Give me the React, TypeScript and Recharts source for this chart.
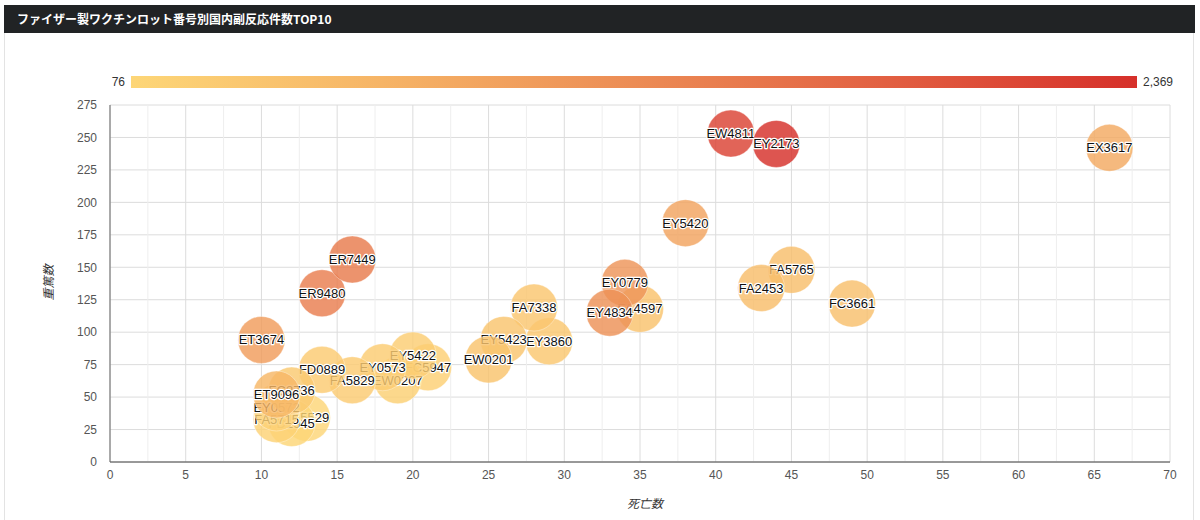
import React from "react";
import {
  ScatterChart,
  Scatter,
  XAxis,
  YAxis,
  CartesianGrid,
  ReferenceLine,
} from "recharts";

// Lots drawn in ascending order of total reports (later ones on top)
const lots = [
  "FA5529", "FD1945", "FA5715", "EY0572", "FC5947", "EW0207", "EY5422", "EY0573",
  "FA5829", "FD0889", "FC8736", "EY3860", "FA7338", "EY5423", "EW0201", "FA4597",
  "FC3661", "FA5765", "FA2453", "ET9096", "EX3617", "EY5420", "ET3674", "EY0779",
  "EY4834", "ER9480", "ER7449", "EW4811", "EY2173",
];
const deaths = [
  13, 12, 11, 11, 21, 19, 20, 18,
  16, 14, 12, 29, 28, 26, 25, 35,
  49, 45, 43, 11, 66, 38, 10, 34,
  33, 14, 16, 41, 44,
];
const serious = [
  34, 30, 33, 42, 73, 63, 82, 73,
  63, 71, 55, 93, 119, 94, 79, 118,
  122, 148, 134, 52, 242, 184, 94, 138,
  115, 130, 156, 253, 245,
];
const reports = [
  76, 100, 140, 160, 180, 200, 220, 240,
  260, 280, 300, 330, 350, 380, 400, 420,
  450, 480, 500, 600, 800, 900, 1000, 1100,
  1150, 1400, 1450, 2150, 2369,
];

const xTicks = [0, 5, 10, 15, 20, 25, 30, 35, 40, 45, 50, 55, 60, 65, 70];
const xMinor = [2.5, 7.5, 12.5, 17.5, 22.5, 27.5, 32.5, 37.5, 42.5, 47.5, 52.5, 57.5, 62.5, 67.5];
const yTicks = [0, 25, 50, 75, 100, 125, 150, 175, 200, 225, 250, 275];

const minReports = 76;
const maxReports = 2369;

const title = "ファイザー製ワクチンロット番号別国内副反応件数TOP10";
const xTitle = "死亡数";
const yTitle = "重篤数";

const colorStops: [number, number[]][] = [
  [0, [253, 214, 119]],
  [0.25, [246, 180, 102]],
  [0.5, [236, 140, 85]],
  [0.75, [226, 96, 66]],
  [1, [214, 48, 42]],
];

function colorFor(v: number): string {
  const t = Math.max(0, Math.min(1, (v - minReports) / (maxReports - minReports)));
  for (let i = 0; i < colorStops.length - 1; i++) {
    const [t0, c0] = colorStops[i];
    const [t1, c1] = colorStops[i + 1];
    if (t >= t0 && t <= t1) {
      const f = (t - t0) / (t1 - t0);
      const c = c0.map((a, k) => Math.round(a + (c1[k] - a) * f));
      return `rgb(${c[0]},${c[1]},${c[2]})`;
    }
  }
  const c = colorStops[colorStops.length - 1][1];
  return `rgb(${c[0]},${c[1]},${c[2]})`;
}

const data = lots.map((lot, i) => ({
  lot,
  deaths: deaths[i],
  serious: serious[i],
  reports: reports[i],
}));

const gradientCss = `linear-gradient(to right, ${colorStops
  .map(([t, c]) => `rgb(${c[0]},${c[1]},${c[2]}) ${t * 100}%`)
  .join(", ")})`;

const Bubble = (props: any) => {
  const { cx, cy, payload } = props;
  if (cx == null || cy == null) return null;
  return (
    <g>
      <circle
        cx={cx}
        cy={cy}
        r={23.5}
        fill={colorFor(payload.reports)}
        fillOpacity={0.82}
        stroke="rgba(255,255,255,0.35)"
        strokeWidth={1}
      />
      <text
        x={cx}
        y={cy}
        textAnchor="middle"
        dominantBaseline="central"
        fontFamily="'Liberation Sans', Arial, sans-serif"
        fontSize={13}
        fill="#111"
        stroke="#fff"
        strokeWidth={2.5}
        strokeLinejoin="round"
        style={{ paintOrder: "stroke" }}
      >
        {payload.lot}
      </text>
    </g>
  );
};

const font = "'Liberation Sans', Arial, sans-serif";

export default function App() {
  return (
    <div
      style={{
        position: "absolute",
        left: 0,
        top: 0,
        width: 1200,
        height: 520,
        background: "#fff",
        overflow: "hidden",
        fontFamily: font,
      }}
    >
      <div
        style={{
          position: "absolute",
          left: 4,
          top: 5,
          width: 1190,
          height: 530,
          border: "1px solid #e3e3e3",
          boxSizing: "border-box",
        }}
      />
      <div
        style={{
          position: "absolute",
          left: 4,
          top: 5,
          width: 1191,
          height: 28,
          background: "#212325",
          color: "#fff",
          fontFamily: "'Noto Sans CJK JP', sans-serif",
          fontWeight: 700,
          fontSize: 12,
          lineHeight: "28px",
          paddingLeft: 13,
          boxSizing: "border-box",
        }}
      >
        {title}
      </div>

      {/* visual map */}
      <div
        style={{
          position: "absolute",
          left: 131,
          top: 76,
          width: 1006,
          height: 12,
          background: gradientCss,
        }}
      />
      <div
        style={{
          position: "absolute",
          left: 85,
          top: 74,
          width: 40,
          textAlign: "right",
          fontSize: 12,
          color: "#333",
          lineHeight: "16px",
        }}
      >
        76
      </div>
      <div
        style={{
          position: "absolute",
          left: 1143,
          top: 74,
          fontSize: 12,
          color: "#333",
          lineHeight: "16px",
        }}
      >
        2,369
      </div>

      <div style={{ position: "absolute", left: 0, top: 0 }}>
        <ScatterChart
          width={1200}
          height={520}
          margin={{ top: 105, right: 30, bottom: 28, left: 50 }}
        >
          <CartesianGrid stroke="#dcdcdc" />
          {xMinor.map((v) => (
            <ReferenceLine key={v} x={v} stroke="#eeeeee" ifOverflow="hidden" />
          ))}
          <XAxis
            type="number"
            dataKey="deaths"
            domain={[0, 70]}
            ticks={xTicks}
            interval={0}
            tickLine={false}
            axisLine={{ stroke: "#444" }}
            tick={{ fill: "#555", fontSize: 12, fontFamily: font }}
            height={30}
          />
          <YAxis
            type="number"
            dataKey="serious"
            domain={[0, 275]}
            ticks={yTicks}
            interval={0}
            tickLine={false}
            tickMargin={7}
            axisLine={{ stroke: "#666" }}
            tick={{ fill: "#555", fontSize: 12, fontFamily: font }}
            width={60}
          />
          <Scatter data={data} shape={Bubble} isAnimationActive={false} />
        </ScatterChart>
      </div>

      <div
        style={{
          position: "absolute",
          left: 600,
          top: 494,
          width: 90,
          textAlign: "center",
          fontSize: 12,
          fontStyle: "italic",
          color: "#333",
          fontFamily: "'Noto Sans CJK JP', sans-serif",
        }}
      >
        {xTitle}
      </div>
      <div
        style={{
          position: "absolute",
          left: 17,
          top: 274,
          width: 60,
          textAlign: "center",
          fontSize: 12,
          fontStyle: "italic",
          color: "#333",
          transform: "rotate(-90deg)",
          fontFamily: "'Noto Sans CJK JP', sans-serif",
        }}
      >
        {yTitle}
      </div>
    </div>
  );
}
